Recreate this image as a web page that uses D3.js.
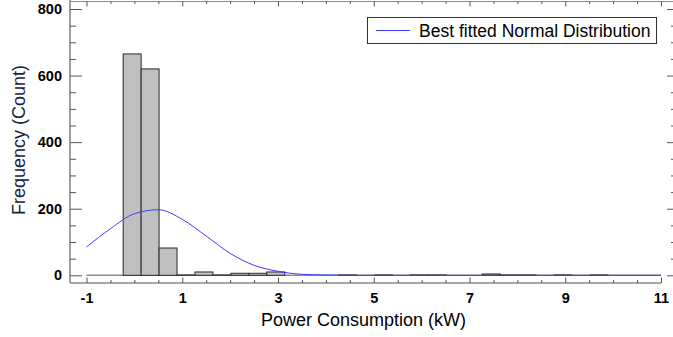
<!DOCTYPE html>
<html>
<head>
<meta charset="utf-8">
<script src="https://cdn.jsdelivr.net/npm/d3@7"></script>
<style>
  body { margin: 0; background: #fff; }
  text { font-family: Arial, "Liberation Sans", sans-serif; }
</style>
</head>
<body>
<div id="chart"></div>
<script>
// histogram bins (kW), left edges plus the final right edge
const binEdges = [-0.234, 0.141, 0.516, 0.891, 1.266, 1.641, 2.016, 2.391, 2.766, 3.141,
  3.516, 3.891, 4.266, 4.641, 5.016, 5.391, 5.766, 6.141, 6.516, 6.891,
  7.266, 7.641, 8.016, 8.391, 8.766, 9.141, 9.516, 9.891];
const binCounts = [665, 620, 82, 1, 10, 1, 6, 6, 10, 0, 0, 0, 1, 0, 1, 0, 1, 1, 0, 0,
  4, 1, 1, 0, 1, 0, 1];

// fitted normal curve
const curveX = [-1, -0.5, 0, 0.5, 1, 1.5, 2, 2.5, 3, 3.5, 4, 4.5, 5, 6, 7, 8, 9, 10, 11];
const curveY = [85, 140, 185, 197, 168, 118, 66, 30, 12, 3, 1, 0, 0, 0, 0, 0, 0, 0, 0];

const xTicks = [-1, 1, 3, 5, 7, 9, 11];
const xMinor = [-0.5, 0, 0.5, 1.5, 2, 2.5, 3.5, 4, 4.5, 5.5, 6, 6.5, 7.5, 8, 8.5, 9.5, 10, 10.5];
const yTicks = [0, 200, 400, 600, 800];
const yMinor = [50, 100, 150, 250, 300, 350, 450, 500, 550, 650, 700, 750];

const legendLabel = "Best fitted Normal Distribution";

const width = 673, height = 337;
const frame = {left: 70, top: 1.5, right: 661, bottom: 283};

const x = d3.scaleLinear().domain([-1, 11]).range([86.5, 661]);
const y = d3.scaleLinear().domain([0, 800]).range([275.3, 9]);

const svg = d3.select("#chart").append("svg")
  .attr("width", width)
  .attr("height", height);

// frame lines
const frameColor = "#8a8a8a";
svg.append("line").attr("x1", frame.left).attr("x2", frame.left)
  .attr("y1", 0).attr("y2", frame.bottom)
  .attr("stroke", frameColor).attr("stroke-width", 1.6);
svg.append("line").attr("x1", frame.left).attr("x2", frame.right)
  .attr("y1", frame.bottom).attr("y2", frame.bottom)
  .attr("stroke", frameColor).attr("stroke-width", 1.6);
svg.append("line").attr("x1", frame.left).attr("x2", width)
  .attr("y1", frame.top).attr("y2", frame.top)
  .attr("stroke", frameColor).attr("stroke-width", 1.2);

function styleAxis(g) {
  g.select(".domain").remove();
  g.selectAll(".tick line").attr("stroke", "#555");
}

// bottom axis (ticks inward)
svg.append("g")
  .attr("transform", `translate(0,${frame.bottom})`)
  .call(d3.axisBottom(x).tickValues(xMinor).tickSize(-3).tickFormat(""))
  .call(styleAxis);
svg.append("g")
  .attr("transform", `translate(0,${frame.bottom})`)
  .call(d3.axisBottom(x).tickValues(xTicks).tickSize(-5.5).tickPadding(10).tickFormat(d => String(d)))
  .call(styleAxis)
  .call(g => g.selectAll(".tick text")
    .attr("fill", "#000").style("font-size", "14.5px").style("font-weight", "bold")
    .attr("dy", "0.71em"));

// top axis
svg.append("g")
  .attr("transform", `translate(0,${frame.top})`)
  .call(d3.axisTop(x).tickValues(xMinor).tickSize(-2.5).tickFormat(""))
  .call(styleAxis);
svg.append("g")
  .attr("transform", `translate(0,${frame.top})`)
  .call(d3.axisTop(x).tickValues(xTicks).tickSize(-5).tickFormat(""))
  .call(styleAxis);

// left axis
svg.append("g")
  .attr("transform", `translate(${frame.left},0)`)
  .call(d3.axisLeft(y).tickValues(yMinor).tickSize(-6).tickFormat(""))
  .call(styleAxis);
svg.append("g")
  .attr("transform", `translate(${frame.left},0)`)
  .call(d3.axisLeft(y).tickValues(yTicks).tickSize(-12).tickPadding(8).tickFormat(d => String(d)))
  .call(styleAxis)
  .call(g => g.selectAll(".tick text")
    .attr("fill", "#000").style("font-size", "14.5px").style("font-weight", "bold"));

// right axis, sitting at the window edge
svg.append("g")
  .attr("transform", `translate(${width},0)`)
  .call(d3.axisRight(y).tickValues(yMinor).tickSize(-2).tickFormat(""))
  .call(styleAxis);
svg.append("g")
  .attr("transform", `translate(${width},0)`)
  .call(d3.axisRight(y).tickValues(yTicks).tickSize(-6).tickFormat(""))
  .call(styleAxis);

// zero line
svg.append("line")
  .attr("x1", x(-1)).attr("x2", x(11))
  .attr("y1", y(0)).attr("y2", y(0))
  .attr("stroke", "#8c8c8c").attr("stroke-width", 1.5);

// histogram bars
const bins = binCounts.map((c, i) => ({x0: binEdges[i], x1: binEdges[i + 1], count: c}));
svg.append("g")
  .selectAll("rect")
  .data(bins.filter(d => d.count > 0))
  .join("rect")
  .attr("x", d => x(d.x0))
  .attr("width", d => x(d.x1) - x(d.x0))
  .attr("y", d => y(d.count))
  .attr("height", d => y(0) - y(d.count))
  .attr("fill", "#c0c0c0")
  .attr("stroke", "#2a2a2a")
  .attr("stroke-width", 1);

// normal curve
const line = d3.line()
  .x((d, i) => x(curveX[i]))
  .y(d => y(d))
  .curve(d3.curveMonotoneX);
svg.append("path")
  .datum(curveY)
  .attr("d", line)
  .attr("fill", "none")
  .attr("stroke", "#3b3bff")
  .attr("stroke-width", 1);

// legend
const lg = svg.append("g");
lg.append("rect")
  .attr("x", 367.5).attr("y", 17.5).attr("width", 289).attr("height", 26)
  .attr("fill", "#fff").attr("stroke", "#333").attr("stroke-width", 1);
lg.append("line")
  .attr("x1", 376).attr("x2", 410).attr("y1", 30.5).attr("y2", 30.5)
  .attr("stroke", "#3b3bff").attr("stroke-width", 1);
lg.append("text")
  .attr("x", 419).attr("y", 36.5)
  .style("font-size", "17.5px")
  .attr("fill", "#000")
  .text(legendLabel);

// axis titles
svg.append("text")
  .attr("x", 363.5).attr("y", 326)
  .attr("text-anchor", "middle")
  .style("font-size", "18px")
  .attr("fill", "#000")
  .text("Power Consumption (kW)");
svg.append("text")
  .attr("transform", "translate(25,140) rotate(-90)")
  .attr("text-anchor", "middle")
  .style("font-size", "18px")
  .attr("fill", "#1a2040")
  .text("Frequency (Count)");
</script>
</body>
</html>
